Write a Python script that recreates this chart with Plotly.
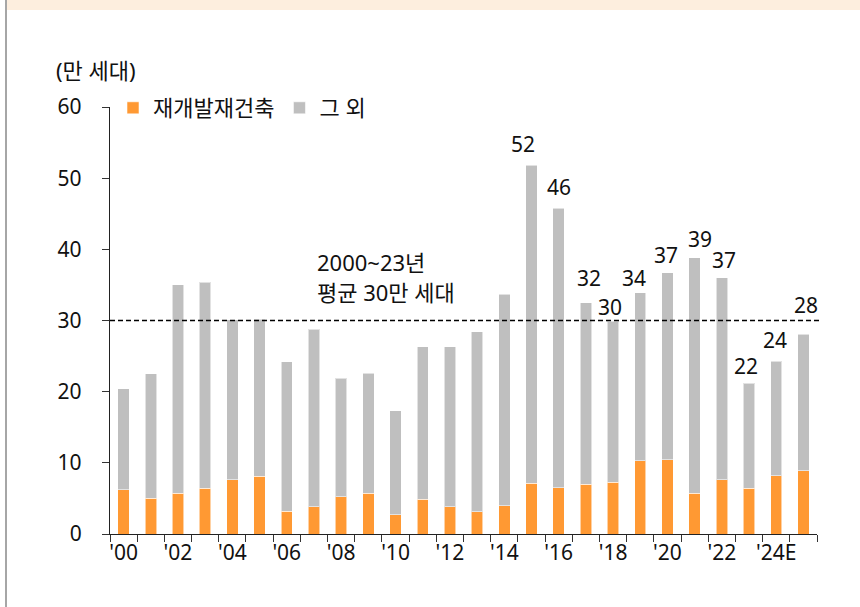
import plotly.graph_objects as go

years = [f"{y}년" for y in range(2000, 2026)]
tick_labels = ["'00", "", "'02", "", "'04", "", "'06", "", "'08", "", "'10", "", "'12", "",
               "'14", "", "'16", "", "'18", "", "'20", "", "'22", "", "'24E", ""]
redev = [6.2, 5.0, 5.7, 6.4, 7.6, 8.1, 3.2, 3.8, 5.2, 5.7, 2.7, 4.9, 3.8, 3.1, 4.0,
         7.1, 6.5, 7.0, 7.3, 10.3, 10.4, 5.7, 7.6, 6.4, 8.2, 8.9]
total = [20.4, 22.5, 35.0, 35.4, 30.1, 30.2, 24.2, 28.8, 21.9, 22.6, 17.3, 26.3, 26.3, 28.4, 33.7,
         51.8, 45.8, 32.5, 29.9, 33.9, 36.7, 38.8, 36.0, 21.2, 24.3, 28.1]
other = [round(t - r, 1) for t, r in zip(total, redev)]

label_years = ["2015년", "2016년", "2017년", "2018년", "2019년", "2020년", "2021년", "2022년",
               "2023년", "2024년", "2025년"]
label_texts = ["52", "46", "32", "30", "34", "37", "39", "37", "22", "24", "28"]
# pixel offsets of label centres from bar tops (styling)
label_dx = [-8, 0, 3, -3, -6, -1.5, 5, 2.5, -3.5, -1, 3]
label_dy = [21, 21, 25, 14, 15, 18, 19, 18, 17, 21, 29]

avg_value = 30
avg_lines = ["2000~23년", "평균 30만 세대"]

FONT = "Noto Sans, Noto Sans CJK KR, sans-serif"
FS = 21
FSK = 22
ORANGE = "#FF9933"
GRAY = "#BFBFBF"

fig = go.Figure()
fig.add_trace(go.Bar(x=years, y=redev, name="재개발재건축", marker_color=ORANGE,
                     marker_line=dict(color="rgba(255,255,255,0.55)", width=1)))
fig.add_trace(go.Bar(x=years, y=other, name="그 외", marker_color=GRAY,
                     marker_line=dict(color="rgba(255,255,255,0.55)", width=1)))

W, H = 860, 607
L, R, T, B = 110, 43, 30, 73
pw, ph = W - L - R, H - T - B
AX_TOP = 107  # pixel of y=60
ydom_top = (H - B - AX_TOP) / ph

def px_x(px):
    return (px - L) / pw

def px_y(py):
    return (H - B - py) / ph

annotations = []
for yr, txt, dx, dy in zip(label_years, label_texts, label_dx, label_dy):
    annotations.append(dict(x=yr, y=total[years.index(yr)], xref="x", yref="y", text=txt,
                            showarrow=False, xanchor="center", yanchor="middle",
                            xshift=dx, yshift=dy, font=dict(family=FONT, size=FS, color="#111")))

annotations.append(dict(x=px_x(315), y=px_y(262), xref="paper", yref="paper",
                        text=avg_lines[0], showarrow=False, xanchor="left", yanchor="middle",
                        font=dict(family=FONT, size=FSK, color="#111")))
annotations.append(dict(x=px_x(315), y=px_y(292), xref="paper", yref="paper",
                        text=avg_lines[1], showarrow=False, xanchor="left", yanchor="middle",
                        font=dict(family=FONT, size=FSK, color="#111")))
annotations.append(dict(x=px_x(54), y=px_y(70), xref="paper", yref="paper",
                        text="(만 세대)", showarrow=False, xanchor="left", yanchor="middle",
                        font=dict(family=FONT, size=FSK, color="#111")))

shapes = [
    dict(type="line", xref="paper", yref="y", x0=0, x1=px_x(820), y0=avg_value, y1=avg_value,
         line=dict(color="#000", width=1.5, dash="5px,3px")),
    dict(type="rect", xref="paper", yref="paper", x0=px_x(7), x1=px_x(W),
         y0=px_y(10), y1=px_y(0), fillcolor="#FDEEDE", line=dict(width=0), layer="below"),
    dict(type="line", xref="paper", yref="paper", x0=px_x(6), x1=px_x(6),
         y0=px_y(H), y1=px_y(0), line=dict(color="#A6A6A6", width=2)),
]

fig.update_layout(
    width=W, height=H,
    margin=dict(l=L, r=R, t=T, b=B),
    barmode="stack", bargap=0.58,
    plot_bgcolor="white", paper_bgcolor="white",
    font=dict(family=FONT, size=FS, color="#111"),
    showlegend=True,
    legend=dict(orientation="h", x=px_x(113), y=px_y(108), xanchor="left", yanchor="middle",
                font=dict(family=FONT, size=FSK, color="#111"), bgcolor="rgba(0,0,0,0)",
                traceorder="normal", itemwidth=30),
    annotations=annotations,
    shapes=shapes,
    xaxis=dict(type="category", categoryorder="array", categoryarray=years,
               tickvals=years, ticktext=tick_labels, tickson="boundaries",
               ticks="outside", ticklen=7, tickcolor="#333", tickwidth=1.3,
               showline=True, linecolor="#222", linewidth=1.3, showgrid=False,
               automargin=False, range=[-0.5, len(years) - 0.5],
               tickfont=dict(family=FONT, size=FS, color="#111"), tickangle=0),
    yaxis=dict(range=[0, 60], dtick=10, ticks="outside", ticklen=7, tickcolor="#333", tickwidth=1.3,
               showline=True, linecolor="#222", linewidth=1.3, showgrid=False, zeroline=False,
               ticklabelstandoff=16, automargin=False, domain=[0, ydom_top],
               tickfont=dict(family=FONT, size=FS, color="#111")),
)

fig.write_html("out.html", config={"displayModeBar": False},
               post_script="document.body.style.margin='0px';")
